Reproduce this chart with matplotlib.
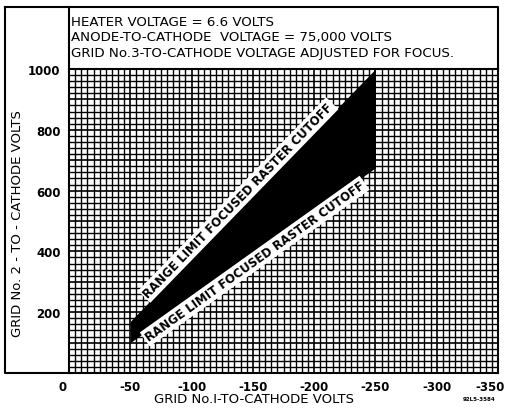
import numpy as np
import matplotlib
matplotlib.use("Agg")
import matplotlib.pyplot as plt
from matplotlib.lines import Line2D
from matplotlib.transforms import ScaledTranslation

# range limit boundaries (grid 1 volts vs grid 2 volts)
g1_edge = [-50, -250]
g2_upper = [170, 1000]
g2_lower = [100, 675]

x_ticks = [0, -50, -100, -150, -200, -250, -300, -350]
y_ticks = [200, 400, 600, 800, 1000]

header_lines = [
    "HEATER VOLTAGE = 6.6 VOLTS",
    "ANODE-TO-CATHODE  VOLTAGE = 75,000 VOLTS",
    "GRID No.3-TO-CATHODE VOLTAGE ADJUSTED FOR FOCUS.",
]
edge_label = "RANGE LIMIT FOCUSED RASTER CUTOFF"

W, H = 508, 410
fig = plt.figure(figsize=(W / 100, H / 100), dpi=100)
ax = fig.add_axes([69 / W, 1 - 374 / H, (498 - 69) / W, (374 - 70) / H])

ax.set_xlim(0, -350)
ax.set_ylim(0, 1000)

# graph-paper grid
for xv in np.arange(0, -351, -5):
    lw = 1.2 if xv % 50 == 0 else 1.0
    ax.axvline(xv, color="black", lw=lw, zorder=1)
for yv in np.arange(0, 1001, 20):
    lw = 1.2 if yv % 100 == 0 else 1.0
    ax.axhline(yv, color="black", lw=lw, zorder=1)

ax.fill_between(g1_edge, g2_lower, g2_upper, color="black", lw=0, zorder=2)

# labels along the two edges
def edge_angle(ys):
    p = ax.transData.transform(np.column_stack([g1_edge, ys]))
    return np.degrees(np.arctan2(p[1, 1] - p[0, 1], p[1, 0] - p[0, 0]))

box = dict(facecolor="white", edgecolor="none", pad=1.5)
ax.text(-138, 569, edge_label, rotation=edge_angle(g2_upper), ha="center", va="center",
        fontsize=8.5, fontweight="bold", bbox=box, zorder=3, rotation_mode="anchor")
ax.text(-151.5, 368, edge_label, rotation=edge_angle(g2_lower), ha="center", va="center",
        fontsize=8.5, fontweight="bold", bbox=box, zorder=3, rotation_mode="anchor")

ax.set_xticks(x_ticks)
ax.set_xticklabels([str(v) for v in x_ticks], fontsize=8.5, fontweight="bold")
ax.set_yticks(y_ticks)
ax.set_yticklabels([str(v) for v in y_ticks], fontsize=8.5, fontweight="bold")
ax.tick_params(axis="x", length=0, pad=5)
ax.tick_params(axis="y", length=0, pad=6)
labs = ax.get_xticklabels()
labs[0].set_transform(labs[0].get_transform() + ScaledTranslation(-6 / 100, 0, fig.dpi_scale_trans))
labs[-1].set_transform(labs[-1].get_transform() + ScaledTranslation(-8 / 100, 0, fig.dpi_scale_trans))
for s in ax.spines.values():
    s.set_linewidth(1.5)
    s.set_zorder(4)

fig.text(254 / W, 1 - 400 / H, "GRID No.I-TO-CATHODE VOLTS", ha="center", va="center",
         fontsize=9.5)
fig.text(18 / W, 1 - 224 / H, "GRID No. 2 - TO - CATHODE VOLTS", rotation=90,
         ha="center", va="center", fontsize=9.5)

# header box and outer frame
def fline(xs, ys, lw=1.5):
    fig.add_artist(Line2D([x / W for x in xs], [1 - y / H for y in ys],
                          color="black", lw=lw, transform=fig.transFigure))

fline([5, 498, 498], [8, 8, 70])
fline([5, 5, 69], [8, 374, 374])
fline([69, 69], [8, 70])

for i, line in enumerate(header_lines):
    fig.text(71 / W, 1 - (23 + 15 * i) / H, line, ha="left", va="center", fontsize=9.6)

fig.text(479 / W, 1 - 400 / H, "92L5-3584", ha="center", va="center",
         fontsize=4, fontweight="bold")

fig.savefig("out.png", dpi=100)
